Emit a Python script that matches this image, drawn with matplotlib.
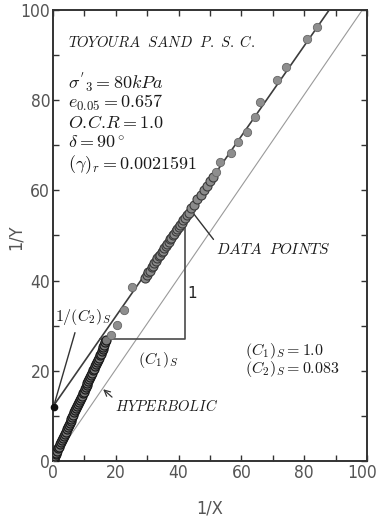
import matplotlib
matplotlib.use("Agg")
import matplotlib.pyplot as plt
from matplotlib.ticker import MultipleLocator

plt.rcParams['mathtext.fontset'] = 'cm'

# fitted hyperbolic constants
c1_s = 1.0
c2_s = 0.083

# measured points, dense band near the origin
band_x = [0.2, 0.4, 0.6, 0.9, 1.1, 1.4, 1.7, 2.0, 2.3, 2.6, 2.9, 3.2, 3.5, 3.8, 4.1,
          4.4, 4.7, 5.0, 5.3, 5.6, 5.9, 6.2, 6.5, 6.8, 7.1, 7.4, 7.7, 8.0, 8.3, 8.6,
          8.9, 9.2, 9.5, 9.8, 10.1, 10.4, 10.7, 11.0, 11.3, 11.6, 11.9, 12.2, 12.5,
          12.8, 13.1, 13.4, 13.7, 14.0, 14.3, 14.6, 14.9, 15.2, 15.5, 15.8, 16.1,
          16.4, 16.7, 17.0]
band_y = [0.4, 0.7, 1.0, 1.5, 1.8, 2.3, 2.8, 3.2, 3.7, 4.2, 4.6, 5.1, 5.6, 6.0, 6.5,
          7.0, 7.5, 7.9, 8.4, 8.9, 9.4, 9.8, 10.3, 10.8, 11.2, 11.7, 12.2, 12.6, 13.1,
          13.6, 14.0, 14.5, 15.0, 15.4, 15.9, 16.4, 16.8, 17.3, 17.7, 18.2, 18.7,
          19.1, 19.6, 20.1, 20.5, 21.0, 21.5, 21.9, 22.4, 22.9, 23.4, 23.8, 24.3,
          24.8, 25.3, 25.8, 26.3, 26.8]

# measured points, dense band along the fitted line
mid_x = [29.2, 29.8, 30.3, 30.9, 31.4, 31.8, 32.3, 32.8, 33.2, 33.7, 34.1, 34.6, 35.0,
         35.5, 35.9, 36.4, 36.8, 37.3, 37.7, 38.2, 38.6, 39.1, 39.6, 40.0, 40.5, 41.0,
         41.5, 42.0, 42.6, 43.3, 44.1, 45.0, 46.0, 47.0, 48.0, 49.0, 50.0, 51.0]
mid_y = [40.6, 41.3, 42.0, 42.2, 43.1, 43.3, 44.0, 44.4, 44.9, 45.4, 45.7, 46.4, 46.6,
         47.3, 47.6, 48.2, 48.5, 49.2, 49.5, 50.1, 50.4, 51.0, 51.4, 51.8, 52.4, 52.8,
         53.4, 53.8, 54.5, 55.0, 56.0, 56.8, 58.0, 59.0, 60.0, 61.0, 62.0, 62.9]

# measured points, sparse
sparse_x = [18.5, 20.5, 22.5, 25.1, 52.0, 53.2, 56.6, 59.0, 61.9, 64.3, 65.9, 71.2,
            74.1, 81.0, 84.0]
sparse_y = [28.0, 30.2, 33.5, 38.6, 64.1, 66.4, 68.2, 70.8, 73.0, 76.2, 79.7, 84.5,
            87.4, 93.5, 96.3]

# hyperbolic reference line
hyp_x = [0, 98.5]
hyp_y = [0, 100]

# slope triangle run
tri_x0 = 15
tri_x1 = 42

x_ticks = [0, 20, 40, 60, 80, 100]
x_ticklabels = ['0', '20', '40', '60', '80', '100']

fig = plt.figure(figsize=(3.78, 5.19), dpi=100)
ax = fig.add_axes([0.140, 0.1118, 0.831, 0.869])

ax.set_xlim(0, 100)
ax.set_ylim(0, 100)

fit = lambda x: 1.0 / c2_s + c1_s * x
x_end = (100 - 1.0 / c2_s) / c1_s

ax.plot(hyp_x, hyp_y, color='#9a9a9a', lw=0.8, zorder=2)
ax.plot([0, x_end], [fit(0), fit(x_end)], color='#3c3c3c', lw=1.2, zorder=3)

# slope triangle
ax.plot([tri_x0, tri_x1, tri_x1], [fit(tri_x0), fit(tri_x0), fit(tri_x1)],
        color='#4a4a4a', lw=1.2, zorder=3)
ax.text(tri_x1 + 0.8, (fit(tri_x0) + fit(tri_x1)) / 2 - 4.5, '1',
        fontsize=11, color='#222222', family='DejaVu Sans')

# data points
ax.plot(band_x, band_y, 'o', ms=6.5, mfc='#7a7a7a', mec='#1a1a1a', mew=0.9, zorder=4)
ax.plot(mid_x, mid_y, 'o', ms=6.5, mfc='#8a8a8a', mec='#3a3a3a', mew=0.8, zorder=4)
ax.plot(sparse_x, sparse_y, 'o', ms=6, mfc='#8e8e8e', mec='#666666', mew=0.6, zorder=4)

# intercept mark
ax.plot([0.5], [fit(0)], marker='o', ms=4.5, color='#111111', clip_on=False, zorder=5)

txt = dict(color='#1a1a1a')
ax.text(4.8, 92.9, r'$TOYOURA\ \ SAND\ \ P.\ S.\ C.$', fontsize=10.5, va='center', **txt)
ax.text(4.8, 84.0, r"$\sigma^{'}{}_{3} = 80kPa$", fontsize=13, va='center', **txt)
ax.text(4.8, 79.4, r'$e_{0.05} = 0.657$', fontsize=13, va='center', **txt)
ax.text(4.8, 75.0, r'$O.\!C.\!R = 1.0$', fontsize=13, va='center', **txt)
ax.text(4.8, 70.5, r'$\delta = 90^\circ$', fontsize=13, va='center', **txt)
ax.text(4.8, 65.6, r'$(\gamma)_r = 0.0021591$', fontsize=13, va='center', **txt)

ax.text(61.0, 24.4, r'$(C_1)_S = 1.0$', fontsize=11.5, va='center', **txt)
ax.text(61.0, 20.4, r'$(C_2)_S = 0.083$', fontsize=11.5, va='center', **txt)
ax.text(27.0, 22.4, r'$(C_1)_S$', fontsize=11.5, va='center', **txt)
ax.text(0.6, 32.0, r'$1/(C_2)_S$', fontsize=11.5, va='center', **txt)

# leaders
ax.plot([7.0, 0.6], [28.4, 13.0], color='#333333', lw=1.0, zorder=3)
ax.annotate(r'$DATA\ \ POINTS$', xy=(44.6, 55.0), xytext=(52.0, 47.0),
            fontsize=11, va='center', color='#1a1a1a',
            arrowprops=dict(arrowstyle='-', color='#333333', lw=1.0,
                            shrinkA=0, shrinkB=0, relpos=(0.0, 0.9)))
ax.annotate(r'$HYPERBOLIC$', xy=(16.0, 15.9), xytext=(19.7, 12.2),
            fontsize=10.5, va='center', color='#1a1a1a',
            arrowprops=dict(arrowstyle='->', color='#333333', lw=0.9,
                            shrinkA=0, shrinkB=0, relpos=(0.0, 0.9)))

# axes frame and ticks
for sp in ax.spines.values():
    sp.set_color('#333333')
    sp.set_linewidth(1.4)
tick_font = dict(family='DejaVu Sans', stretch='condensed', size=12.5)
# the last x label is drawn separately so it stays inside the canvas
ax.set_xticks(x_ticks, labels=x_ticklabels[:-1] + [''], fontdict=tick_font)
ax.yaxis.set_major_locator(MultipleLocator(20))
ax.xaxis.set_minor_locator(MultipleLocator(10))
ax.yaxis.set_minor_locator(MultipleLocator(10))
ax.tick_params(which='both', direction='in', length=4, width=1.0, color='#333333',
               top=True, right=True)
ax.tick_params(which='major', labelcolor='#555555', pad=2)
for lab in ax.get_yticklabels():
    lab.set_family('DejaVu Sans')
    lab.set_fontstretch('condensed')
    lab.set_fontsize(12.5)
ax.annotate(x_ticklabels[-1], xy=(x_ticks[-1], 0), xytext=(7.5, -2),
            textcoords='offset points', ha='right', va='top',
            color='#555555', fontsize=12.5, family='DejaVu Sans',
            fontstretch='condensed', annotation_clip=False)

ax.set_xlabel('1/X', fontsize=13, color='#555555', family='DejaVu Sans',
              fontstretch='condensed')
ax.set_ylabel('1/Y', fontsize=13, color='#555555', family='DejaVu Sans',
              fontstretch='condensed')
ax.xaxis.set_label_coords(0.5, -0.086)
ax.yaxis.set_label_coords(-0.09, 0.497)

fig.savefig('out.png', dpi=100)
